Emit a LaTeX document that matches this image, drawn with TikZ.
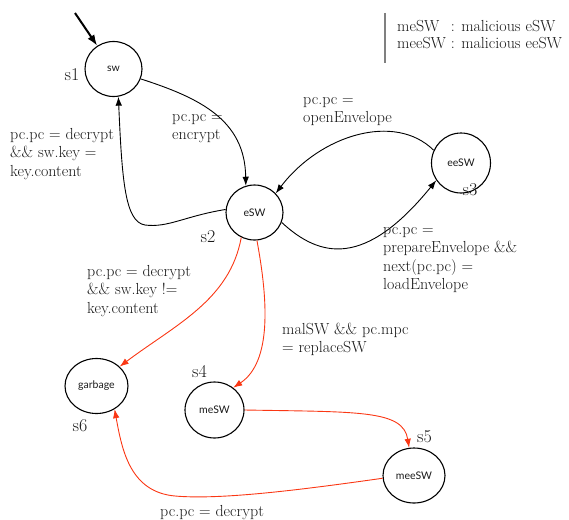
\documentclass[tikz,border=0pt]{standalone}
\usepackage{fontspec}
\setmainfont{Latin Modern Roman}
\newfontfamily\nodefont{Lato}
\usetikzlibrary{arrows.meta,shapes.geometric}
\definecolor{redline}{RGB}{250,55,20}
\definecolor{txt}{RGB}{25,25,25}
\tikzset{
  state/.style={ellipse, draw=black, line width=1.1pt, minimum width=57pt, minimum height=55pt,
    inner sep=0pt, font=\nodefont\fontsize{10.5}{12}\selectfont, text=txt},
  lbl/.style={font=\fontsize{16}{18.5}\selectfont, text=txt, align=left, inner sep=0pt, anchor=base west},
  sname/.style={font=\fontsize{18}{20}\selectfont, text=txt, inner sep=0pt},
  edge/.style={line width=0.9pt, -{Latex[length=9pt,width=6.5pt]}},
  redge/.style={edge, draw=redline},
}
\begin{document}
\begin{tikzpicture}[x=1pt,y=-1pt]
\useasboundingbox (0,0) rectangle (569,519);
% states
\node[state] (s1) at (113.5,69) {sw};
\node[state] (s2) at (254.5,212.5) {eSW};
\node[state, minimum width=59pt, minimum height=60pt] (s3) at (461,163) {eeSW};
\node[state, minimum width=63pt, minimum height=55pt] (s6) at (96.5,386) {garbage};
\node[state, minimum width=59pt, minimum height=56pt] (s4) at (214.5,410) {meSW};
\node[state, minimum width=62pt, minimum height=55pt] (s5) at (414,475.5) {meeSW};
% state names
\node[sname] (n1) at (72,75) {s1};
\node[sname] (n2) at (208,237) {s2};
\node[sname] (n3) at (470,190) {s3};
\node[sname] (n4) at (199.5,372) {s4};
\node[sname] (n5) at (424.5,437) {s5};
\node[sname] (n6) at (80,426) {s6};
% legend
\draw[gray, line width=1.2pt] (385,13) -- (385,63);
\node[anchor=west, inner sep=0pt, text=txt, font=\fontsize{16}{17}\selectfont] (legend) at (397,37)
  {\begin{tabular}{@{}l@{ }l@{}}meSW & : malicious eSW\\ meeSW & : malicious eeSW\end{tabular}};
% initial arrow
\coordinate (init) at (75,13);
\draw[line width=2pt, -{Latex[length=11pt,width=8pt]}] (init) -- (s1.125);
% black transitions
\draw[edge] (s1.-20) .. controls (200,98) and (245,120) .. (s2.108);
\draw[edge] (s2.174) .. controls (185,216) and (168,228) .. (145,225)
  .. controls (125,222) and (122,180) .. (s1.-80);
\draw[edge] (s3.155) .. controls (395,112) and (320,135) .. (s2.42);
\draw[edge] (s2.-20) .. controls (320,258) and (365,268) .. (s3.-145);
% red transitions
\draw[redge] (s2.-118) .. controls (230,300) and (175,325) .. (s6.40);
\draw[redge] (s2.-85) .. controls (268,300) and (272,362) .. (s4.50);
\draw[redge] (s4.0) .. controls (360,412) and (403,410) .. (s5.100);
\draw[redge] (s5.185) .. controls (300,490) and (220,500) .. (175,496)
  .. controls (130,492) and (122,450) .. (s6.-52);
% edge labels (anchor = baseline of the last line)
\node[lbl] (l1) at (10,176) {pc.pc = decrypt\\\&\& sw.key =\\key.content};
\node[lbl] (l2) at (172,139.5) {pc.pc =\\encrypt};
\node[lbl] (l3) at (303,122.5) {pc.pc =\\openEnvelope};
\node[lbl] (l4) at (383,289.5) {pc.pc =\\prepareEnvelope \&\&\\next(pc.pc) =\\loadEnvelope};
\node[lbl] (l5) at (87,313) {pc.pc = decrypt\\\&\& sw.key !=\\key.content};
\node[lbl] (l6) at (282,352.5) {malSW \&\& pc.mpc\\= replaceSW};
\node[lbl] (l7) at (160,516) {pc.pc = decrypt};
\end{tikzpicture}
\end{document}
